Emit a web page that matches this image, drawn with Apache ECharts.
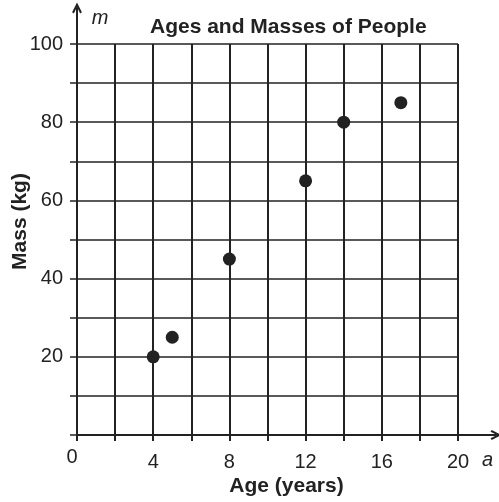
<!DOCTYPE html>
<html>
<head>
<meta charset="utf-8">
<script src="https://cdn.jsdelivr.net/npm/echarts@6/dist/echarts.min.js"></script>
<style>
  html, body { margin: 0; padding: 0; background: #fff; }
  #chart { width: 499px; height: 502px; }
</style>
</head>
<body>
<div id="chart"></div>
<script>
var ages = [4, 5, 8, 12, 14, 17];
var masses = [20, 25, 45, 65, 80, 85];
var xLabels = [0, 4, 8, 12, 16, 20];
var yLabels = [20, 40, 60, 80, 100];

var ink = '#222';
var font = '"Liberation Sans", Arial, sans-serif';
// open arrow head, drawn pointing up
var chevron = 'path://M0,10 L5,0 L10,10 L8.2,11.2 L5,4.5 L1.8,11.2 Z';

var points = ages.map(function (a, i) { return [a, masses[i]]; });

var chart = echarts.init(document.getElementById('chart'));

var option = {
    animation: false,
    backgroundColor: '#fff',
    title: {
        text: 'Ages and Masses of People',
        left: 145,
        top: 12,
        textStyle: { fontFamily: font, fontSize: 21, fontWeight: 'bold', color: ink }
    },
    grid: [
        { left: 77, top: 44, right: 41, bottom: 67 },
        { left: 77, top: 8, right: 3, bottom: 67 }
    ],
    xAxis: [{
        gridIndex: 0,
        type: 'value',
        min: 0,
        max: 20,
        interval: 2,
        name: 'a',
        nameLocation: 'end',
        nameGap: 24,
        nameTextStyle: { fontFamily: font, fontSize: 20, fontStyle: 'italic', color: ink, verticalAlign: 'top', padding: [15, 0, 0, 0] },
        axisLine: { show: false },
        axisTick: { show: true, length: 6, lineStyle: { color: ink, width: 2 } },
        splitLine: { show: true, lineStyle: { color: ink, width: 2 } },
        axisLabel: {
            margin: 12,
            fontFamily: font,
            fontSize: 20,
            color: ink,
            formatter: function (v) {
                if (v === 0) return '{z|0}';
                if (xLabels.indexOf(v) >= 0) return '{n|' + v + '}';
                return '';
            },
            rich: {
                z: { fontFamily: font, fontSize: 20, color: ink, padding: [0, 10, 0, 0] },
                n: { fontFamily: font, fontSize: 20, color: ink, padding: [5, 0, 0, 0] }
            }
        }
    }, {
        gridIndex: 1,
        type: 'value',
        min: 0,
        max: 1,
        name: 'Age (years)',
        nameLocation: 'middle',
        nameGap: 41,
        nameTextStyle: { fontFamily: font, fontSize: 21, fontWeight: 'bold', color: ink },
        axisLine: { show: true, symbol: ['none', chevron], symbolSize: [16, 11], lineStyle: { color: ink, width: 2 } },
        axisTick: { show: false },
        axisLabel: { show: false },
        splitLine: { show: false }
    }],
    yAxis: [{
        gridIndex: 0,
        type: 'value',
        min: 0,
        max: 100,
        interval: 10,
        name: 'm',
        nameLocation: 'end',
        nameGap: 16,
        nameTextStyle: { fontFamily: font, fontSize: 20, fontStyle: 'italic', color: ink, padding: [0, 0, 0, 46] },
        axisLine: { show: false },
        axisTick: { show: true, length: 7, lineStyle: { color: ink, width: 1.5 } },
        splitLine: { show: true, lineStyle: { color: ink, width: 1.5 } },
        axisLabel: {
            margin: 14,
            fontFamily: font,
            fontSize: 20,
            color: ink,
            formatter: function (v) {
                return yLabels.indexOf(v) >= 0 ? String(v) : '';
            }
        }
    }, {
        gridIndex: 1,
        type: 'value',
        min: 0,
        max: 1,
        name: 'Mass (kg)',
        nameLocation: 'middle',
        nameGap: 46,
        nameRotate: 90,
        nameTextStyle: { fontFamily: font, fontSize: 21, fontWeight: 'bold', color: ink },
        axisLine: { show: true, symbol: ['none', chevron], symbolSize: [16, 11], lineStyle: { color: ink, width: 2 } },
        axisTick: { show: false },
        axisLabel: { show: false },
        splitLine: { show: false }
    }],
    series: [{
        type: 'scatter',
        xAxisIndex: 0,
        yAxisIndex: 0,
        data: points,
        symbolSize: 13,
        itemStyle: { color: ink, opacity: 1 },
        z: 5
    }]
};

chart.setOption(option);
</script>
</body>
</html>
